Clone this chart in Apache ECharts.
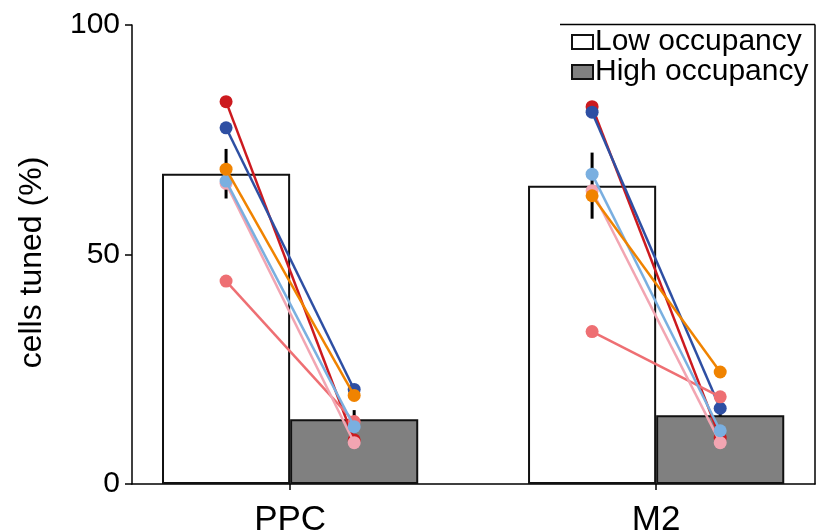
<!DOCTYPE html>
<html>
<head>
<meta charset="utf-8">
<script src="https://cdn.jsdelivr.net/npm/echarts@6/dist/echarts.min.js"></script>
<style>
  html, body { margin: 0; padding: 0; background: #fff; }
  #chart { width: 817px; height: 530px; }
</style>
</head>
<body>
<div id="chart"></div>
<script>
// Brain regions and the two occupancy conditions
const regions = ['PPC', 'M2'];
const conditions = ['Low occupancy', 'High occupancy'];

// Group means (bars) and SEM (error bars), % of cells tuned
const lowMean = [67.6, 65.0];
const highMean = [14.1, 15.0];
const lowSem = [5.4, 7.2];
const highSem = [2.0, 2.4];

// Per-animal values, same animal order in every array
const animalIds = ['a1', 'a2', 'a3', 'a4', 'a5', 'a6'];
const animalColors = ['#cc1a1f', '#2e4fa3', '#ee6f73', '#f2a5b2', '#7aafe0', '#f08300'];
const ppcLow  = [83.3, 77.6, 44.2, 65.5, 66.0, 68.6];
const ppcHigh = [9.6, 20.6, 13.6, 9.0, 12.5, 19.3];
const m2Low   = [82.2, 81.0, 33.2, 63.9, 67.5, 62.8];
const m2High  = [10.0, 16.5, 19.0, 9.0, 11.6, 24.4];

// Layout: regions sit at x = 1, 2; each bar is 35% of the unit spacing
const groupX = [1, 2];
const barFrac = 0.35;
const half = barFrac / 2;
const FONT = 'Liberation Sans, Arial, Helvetica, sans-serif';

const chart = echarts.init(document.getElementById('chart'), null, { renderer: 'canvas' });

const lowBar = {
  name: conditions[0],
  type: 'bar',
  barWidth: (barFrac * 100) + '%',
  barGap: '0%',
  z: 2,
  itemStyle: { color: 'rgba(255,255,255,0)', borderColor: '#111', borderWidth: 2 },
  data: groupX.map((x, i) => [x, lowMean[i]])
};
const highBar = {
  name: conditions[1],
  type: 'bar',
  barWidth: (barFrac * 100) + '%',
  barGap: '0%',
  z: 2,
  itemStyle: { color: '#808080', borderColor: '#111', borderWidth: 2 },
  data: groupX.map((x, i) => [x, highMean[i]])
};

// Error bars drawn underneath the bars
const errData = [];
groupX.forEach((x, i) => {
  errData.push([x - half, lowMean[i], lowSem[i]]);
  errData.push([x + half, highMean[i], highSem[i]]);
});
const errSeries = {
  type: 'custom',
  z: 1,
  silent: true,
  data: errData,
  renderItem: function (params, api) {
    const x = api.value(0), m = api.value(1), e = api.value(2);
    const p1 = api.coord([x, m - e]);
    const p2 = api.coord([x, m + e]);
    return {
      type: 'line',
      shape: { x1: p1[0], y1: p1[1], x2: p2[0], y2: p2[1] },
      style: { stroke: '#000', lineWidth: 3 }
    };
  }
};

// One paired line per animal per region
const pairSeries = [];
const regionPairs = [[ppcLow, ppcHigh], [m2Low, m2High]];
regionPairs.forEach((pair, r) => {
  animalIds.forEach((id, k) => {
    pairSeries.push({
      name: id + '-' + regions[r],
      type: 'line',
      z: 5 + k,
      symbol: 'circle',
      symbolSize: 13,
      showSymbol: true,
      animation: false,
      lineStyle: { color: animalColors[k], width: 2.5 },
      itemStyle: { color: animalColors[k] },
      data: [[groupX[r] - half, pair[0][k]], [groupX[r] + half, pair[1][k]]]
    });
  });
});

const option = {
  animation: false,
  backgroundColor: '#fff',
  textStyle: { fontFamily: FONT },
  grid: { left: 132, right: 2, top: 25, bottom: 46, containLabel: false, outerBoundsMode: 'none' },
  legend: {
    data: conditions,
    orient: 'vertical',
    left: 571,
    top: 27,
    padding: 0,
    itemGap: 0,
    itemWidth: 21,
    itemHeight: 14,
    icon: 'rect',
    selectedMode: false,
    textStyle: { fontFamily: FONT, fontSize: 30, color: '#000', padding: [0, 0, 0, -3] }
  },
  xAxis: {
    type: 'value',
    min: 0.568,
    max: 2.434,
    splitLine: { show: false },
    axisLine: { show: true, onZero: false, lineStyle: { color: '#000', width: 1.5 } },
    axisTick: { show: true, customValues: groupX, length: 6, inside: false, lineStyle: { color: '#000', width: 1.5 } },
    axisLabel: {
      show: true,
      customValues: groupX,
      formatter: v => regions[groupX.indexOf(Math.round(v))] || '',
      fontFamily: FONT,
      fontSize: 35,
      color: '#000',
      margin: 19
    }
  },
  yAxis: [{
    type: 'value',
    min: 0,
    max: 100,
    interval: 50,
    splitLine: { show: false },
    axisLine: { show: true, lineStyle: { color: '#000', width: 1.5 } },
    axisTick: { show: true, length: 7, inside: false, lineStyle: { color: '#000', width: 1.5 } },
    axisLabel: { fontFamily: FONT, fontSize: 30, color: '#000', margin: 12 },
    name: 'cells tuned (%)',
    nameLocation: 'middle',
    nameGap: 84,
    nameTextStyle: { fontFamily: FONT, fontSize: 32, color: '#000', padding: [0, 16, 0, 0] }
  }, {
    type: 'value',
    position: 'right',
    min: 0,
    max: 100,
    splitLine: { show: false },
    axisLine: { show: true, lineStyle: { color: '#000', width: 1.5 } },
    axisTick: { show: false },
    axisLabel: { show: false }
  }],
  graphic: [{
    type: 'line',
    shape: { x1: 560, y1: 24.5, x2: 815, y2: 24.5 },
    style: { stroke: '#000', lineWidth: 1.5 },
    silent: true
  }],
  series: [lowBar, highBar, errSeries].concat(pairSeries)
};

chart.setOption(option);
</script>
</body>
</html>
